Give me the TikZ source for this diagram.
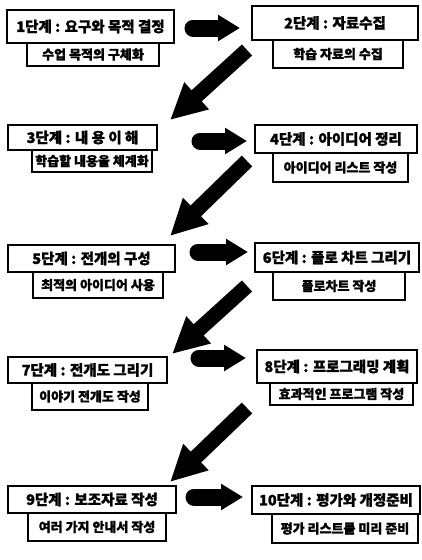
\documentclass[tikz,border=0pt]{standalone}
\usepackage{fontspec}
\newfontfamily\kr{Noto Sans CJK KR}[BoldFeatures={FakeBold=1.2}]
\usetikzlibrary{arrows.meta}
\tikzset{
  mainbox/.style={draw, line width=1.8pt, fill=white, inner sep=0pt,
    font=\kr\bfseries\fontsize{14.5}{16}\selectfont},
  subbox/.style={draw, line width=1.2pt, fill=white, inner sep=0pt,
    font=\kr\bfseries\fontsize{13}{15}\selectfont},
  harrow/.style={line width=17pt, line cap=round, -{Triangle[width=25pt,length=22pt]}},
  darrow/.style={line width=15pt, -{Triangle[width=34pt,length=36pt]}},
}
\newcommand\bx[6]{\node[#1, minimum width=#4pt, minimum height=#5pt] (#2) at (#3) {#6};}
\begin{document}
\begin{tikzpicture}[x=1pt,y=-1pt]
\useasboundingbox[fill=white] (0,0) rectangle (422,560);
% left column
\bx{subbox}{s1}{93,54.5}{132}{23}{수업 목적의 구체화}
\bx{mainbox}{m1}{90.5,26.5}{167}{33}{1단계 : 요구와 목적 결정}
\bx{subbox}{s3}{92,161}{120}{22}{학습할 내용을 체계화}
\bx{mainbox}{m3}{82.5,137.5}{149}{25}{3단계 : 내 용 이 해}
\bx{subbox}{s5}{98,285}{130}{26}{최적의 아이디어 사용}
\bx{mainbox}{m5}{91.5,258.5}{167}{27}{5단계 : 전개의 구성}
\bx{subbox}{s7}{90,396.5}{116}{27}{이야기 전개도 작성}
\bx{mainbox}{m7}{87.5,370}{159}{26}{7단계 : 전개도 그리기}
\bx{subbox}{s9}{97,527}{138}{28}{여러 가지 안내서 작성}
\bx{mainbox}{m9}{92,499.5}{168}{27}{9단계 : 보조자료 작성}
% right column
\bx{subbox}{s2}{338,54}{130}{28}{학습 자료의 수집}
\bx{mainbox}{m2}{335,23}{166}{34}{2단계 : 자료수집}
\bx{subbox}{s4}{340.5,167.5}{135}{29}{아이디어 리스트 작성}
\bx{mainbox}{m4}{336,139}{162}{28}{4단계 : 아이디어 정리}
\bx{subbox}{s6}{339,286}{132}{28}{플로차트 작성}
\bx{mainbox}{m6}{337,257.5}{164}{29}{6단계 : 플로 차트 그리기}
\bx{subbox}{s8}{341.5,394}{143}{22}{효과적인 프로그램 작성}
\bx{mainbox}{m8}{337,366.5}{160}{33}{8단계 : 프로그래밍 계획}
\bx{subbox}{s10}{345,528.5}{146}{29}{평가 리스트를 미리 준비}
\bx{mainbox}{m10}{336,500}{168}{28}{10단계 : 평가와 개정준비}
% arrow end points
\coordinate (h1a) at (193,28);  \coordinate (h1b) at (240,28);
\coordinate (h2a) at (200,141); \coordinate (h2b) at (247,141);
\coordinate (h3a) at (198,252); \coordinate (h3b) at (248,252);
\coordinate (h4a) at (199,358); \coordinate (h4b) at (246,358);
\coordinate (h5a) at (194,497); \coordinate (h5b) at (243,497);
\coordinate (d1a) at (247,50);  \coordinate (d1b) at (170,120);
\coordinate (d2a) at (247,161); \coordinate (d2b) at (170,236);
\coordinate (d3a) at (247,286); \coordinate (d3b) at (172,354);
\coordinate (d4a) at (247,408); \coordinate (d4b) at (170,482);
\foreach \i in {1,...,5} {\draw[harrow] (h\i a) -- (h\i b);}
\foreach \i in {1,...,4} {\draw[darrow] (d\i a) -- (d\i b);}
\end{tikzpicture}
\end{document}
